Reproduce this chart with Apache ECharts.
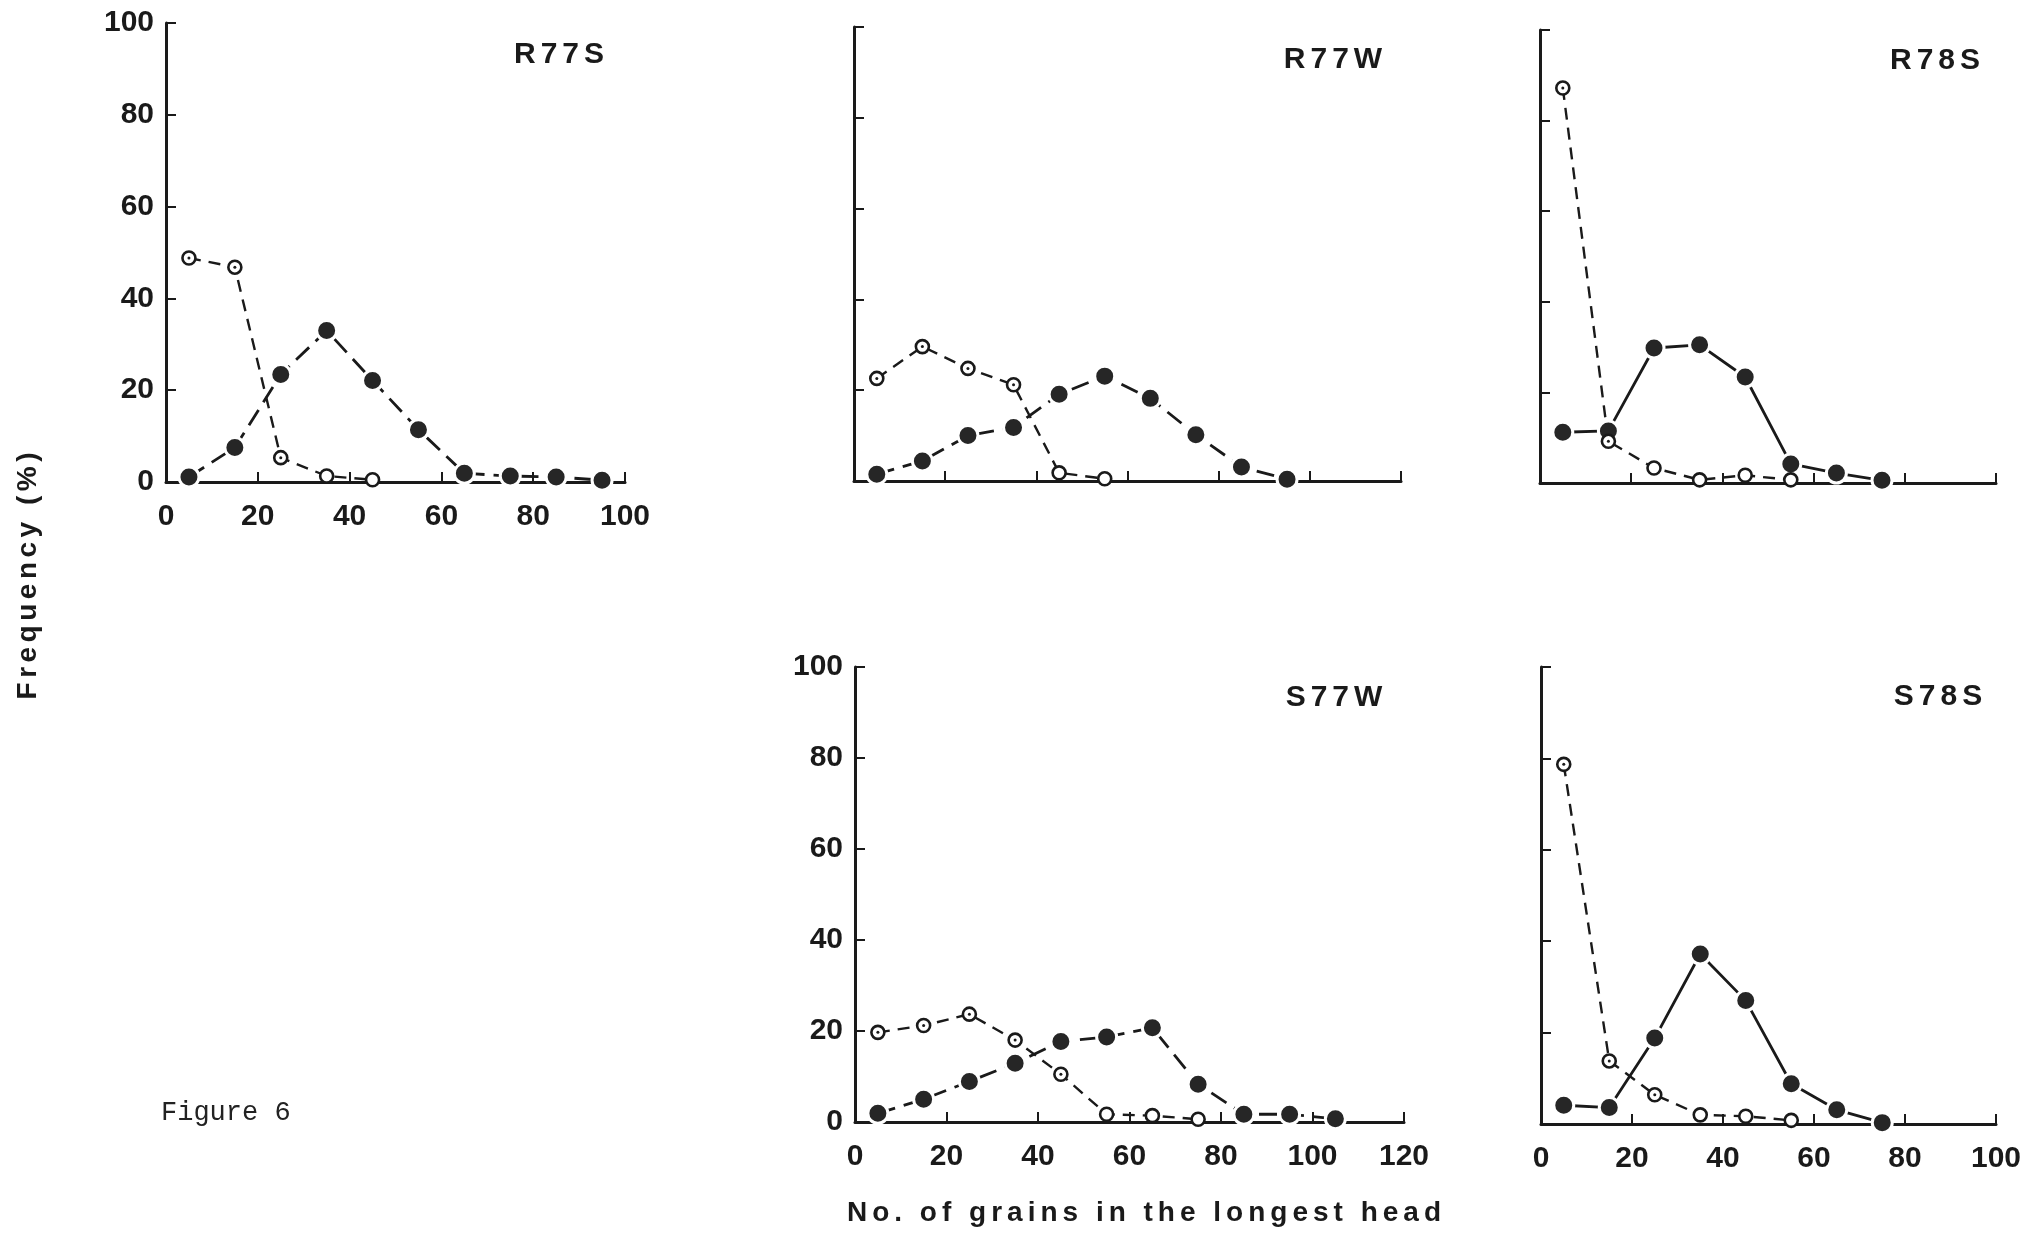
<!DOCTYPE html>
<html>
<head>
<meta charset="utf-8">
<script src="https://cdn.jsdelivr.net/npm/echarts@6/dist/echarts.min.js"></script>
<style>
html,body{margin:0;padding:0;background:#fff;}
#chart{width:2029px;height:1233px;}
</style>
</head>
<body>
<div id="chart"></div>
<script>
// ---- data ----
const xMid = [5, 15, 25, 35, 45, 55, 65, 75, 85, 95, 105];
const panelNames = ['R77S', 'R77W', 'R78S', 'S77W', 'S78S'];
const r77sFilled = [1.1, 7.5, 23.4, 33, 22.1, 11.4, 1.9, 1.3, 1.1, 0.4];
const r77sOpen   = [48.8, 46.8, 5.3, 1.3, 0.5];
const r77wFilled = [1.5, 4.4, 10, 11.8, 19.1, 23.1, 18.2, 10.2, 3.1, 0.4];
const r77wOpen   = [22.6, 29.6, 24.8, 21.2, 1.8, 0.5];
const r78sFilled = [11.2, 11.5, 29.8, 30.5, 23.4, 4.2, 2.2, 0.6];
const r78sOpen   = [87.2, 9.2, 3.3, 0.7, 1.7, 0.7];
const s77wFilled = [1.9, 5, 8.9, 12.9, 17.7, 18.7, 20.7, 8.3, 1.7, 1.7, 0.7];
const s77wOpen   = [19.7, 21.2, 23.7, 18, 10.5, 1.7, 1.4, 0.6];
const s78sFilled = [4.1, 3.6, 18.8, 37.2, 27, 8.8, 3.1, 0.3];
const s78sOpen   = [78.7, 13.8, 6.4, 2, 1.7, 0.8];
const xMaxes = [100, 120, 100, 120, 100];
const yTicks = [0, 20, 40, 60, 80, 100];
const yTitle = 'Frequency (%)';
const xTitle = 'No. of grains in the longest head';
const figLabel = 'Figure 6';

// ---- layout ----
const panels = [
  {grid:{left:166, top:23, width:459, height:459}, filled:r77sFilled, open:r77sOpen, solid:false, showX:true, showY:true, title:[559, 55]},
  {grid:{left:854, top:27, width:547, height:454}, filled:r77wFilled, open:r77wOpen, solid:false, showX:false, showY:false, title:[1333, 60]},
  {grid:{left:1540, top:30, width:456, height:453}, filled:r78sFilled, open:r78sOpen, solid:true, showX:false, showY:false, title:[1935, 61]},
  {grid:{left:855, top:667, width:549, height:455}, filled:s77wFilled, open:s77wOpen, solid:false, showX:true, showY:true, title:[1334, 698]},
  {grid:{left:1541, top:667, width:455, height:457}, filled:s78sFilled, open:s78sOpen, solid:true, showX:true, showY:false, title:[1938, 697]}
];

const INK = '#1a1a1a';
const LABEL_FONT = 'Liberation Sans';

function pairs(vals) { return vals.map((v, i) => [xMid[i], v]); }

const grids = [], xAxes = [], yAxes = [], series = [];
panels.forEach((p, i) => {
  grids.push(Object.assign({containLabel:false, outerBoundsMode:'none'}, p.grid));
  const axisCommon = {
    axisLine:{show:true, onZero:false, lineStyle:{color:INK, width:3}},
    axisTick:{show:true, inside:true, length:10, lineStyle:{color:INK, width:2}},
    splitLine:{show:false}
  };
  xAxes.push(Object.assign({
    type:'value', gridIndex:i, min:0, max:xMaxes[i], interval:20,
    axisLabel:{show:p.showX, color:INK, fontFamily:LABEL_FONT, fontWeight:'bold', fontSize:30, margin:20}
  }, axisCommon));
  yAxes.push(Object.assign({
    type:'value', gridIndex:i, min:yTicks[0], max:yTicks[yTicks.length-1], interval:20,
    axisLabel:{show:p.showY, color:INK, fontFamily:LABEL_FONT, fontWeight:'bold', fontSize:30, margin:12}
  }, axisCommon));
  // lines
  series.push({
    type:'line', xAxisIndex:i, yAxisIndex:i, data:pairs(p.filled), showSymbol:false, symbol:'none',
    lineStyle:{color:INK, width:2.8, type: p.solid ? 'solid' : [18, 9]}, z:2, animation:false, silent:true
  });
  series.push({
    type:'line', xAxisIndex:i, yAxisIndex:i, data:pairs(p.open), showSymbol:false, symbol:'none',
    lineStyle:{color:INK, width:2.4, type:[12, 8]}, z:2, animation:false, silent:true
  });
  // markers
  series.push({
    type:'scatter', xAxisIndex:i, yAxisIndex:i, data:pairs(p.filled), symbol:'circle', symbolSize:20,
    itemStyle:{color:'#262626', borderColor:'#ffffff', borderWidth:3, opacity:1}, z:5, animation:false, silent:true
  });
  series.push({
    type:'scatter', xAxisIndex:i, yAxisIndex:i, data:pairs(p.open), symbol:'circle', symbolSize:13,
    itemStyle:{color:'#ffffff', borderColor:INK, borderWidth:2.6, opacity:1}, z:6, animation:false, silent:true
  });
  series.push({
    type:'scatter', xAxisIndex:i, yAxisIndex:i, data:pairs(p.open).filter(d => d[1] > 5), symbol:'circle', symbolSize:3,
    itemStyle:{color:INK, opacity:1}, z:7, animation:false, silent:true
  });
});

// letter-spaced text helper
const mctx = document.createElement('canvas').getContext('2d');
function spacedText(str, fontSize, spacing, cx, cy, rotation) {
  const font = 'bold ' + fontSize + 'px "' + LABEL_FONT + '"';
  mctx.font = font;
  const chars = Array.from(str);
  const widths = chars.map(c => mctx.measureText(c).width);
  const total = widths.reduce((a, b) => a + b, 0) + spacing * (chars.length - 1);
  let x = -total / 2;
  const children = chars.map((c, k) => {
    const el = {type:'text', x:x, y:0, style:{text:c, fontSize:fontSize, fontWeight:'bold', fontFamily:LABEL_FONT, fill:INK, align:'left', verticalAlign:'middle'}};
    x += widths[k] + spacing;
    return el;
  });
  return {type:'group', x:cx, y:cy, rotation:rotation || 0, children:children, silent:true};
}

const graphics = [];
panels.forEach((p, i) => graphics.push(spacedText(panelNames[i], 30, 5, p.title[0], p.title[1], 0)));
graphics.push(spacedText(yTitle, 28, 4.5, 28, 576, Math.PI / 2));
graphics.push(spacedText(xTitle, 28, 5, 1144, 1213, 0));
graphics.push({type:'text', x:161, y:1113, silent:true,
  style:{text:figLabel, fontSize:27, fontFamily:'Liberation Mono', fill:'#222', align:'left', verticalAlign:'middle'}});

const chart = echarts.init(document.getElementById('chart'), null, {renderer:'canvas'});
chart.setOption({
  backgroundColor:'#ffffff',
  animation:false,
  grid:grids, xAxis:xAxes, yAxis:yAxes, series:series, graphic:graphics
});
</script>
</body>
</html>
